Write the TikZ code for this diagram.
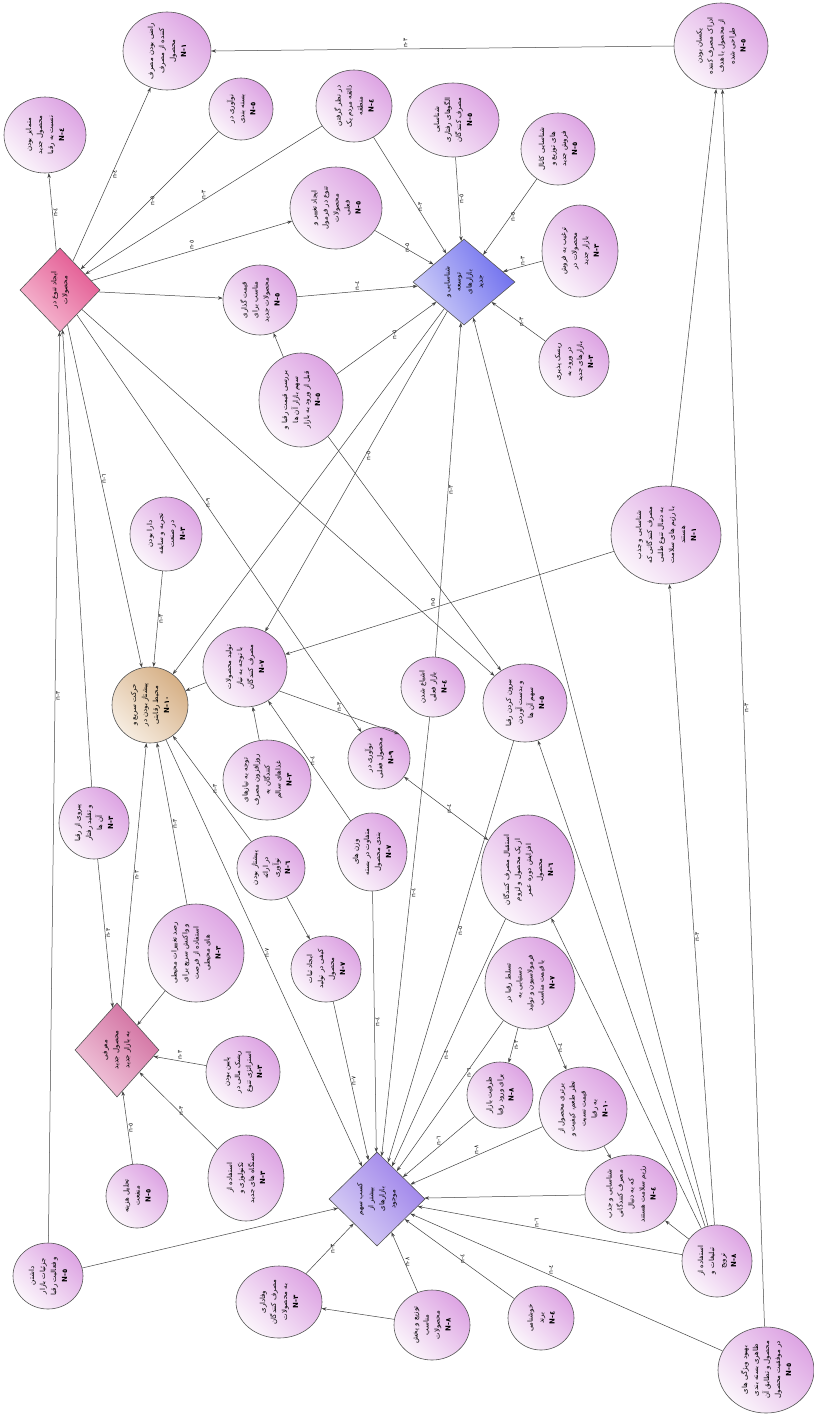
\documentclass[tikz,border=0pt]{standalone}
\usepackage{fontspec}
\usetikzlibrary{shapes.geometric,arrows.meta}
\TeXXeTstate=1
\newfontfamily\arabicfont[Script=Arabic]{DejaVu Sans}
\newcommand\faline[1]{\beginR#1\endR}
\newcommand\nlab[1]{\textbf{#1}}
\definecolor{bord}{HTML}{555555}
\definecolor{edgec}{HTML}{444444}
\definecolor{bubA}{HTML}{DDA4E3}
\definecolor{bubB}{HTML}{FBF5FB}
\definecolor{pinkA}{HTML}{E2558F}
\definecolor{pinkB}{HTML}{F6BCD3}
\definecolor{blueA}{HTML}{6E6EEE}
\definecolor{blueB}{HTML}{CFCFF8}
\definecolor{mauveA}{HTML}{D06C9E}
\definecolor{mauveB}{HTML}{F2CADD}
\definecolor{purpA}{HTML}{9C80EA}
\definecolor{purpB}{HTML}{DAD2F5}
\definecolor{tanA}{HTML}{D6B086}
\definecolor{tanB}{HTML}{F6ECE0}
\begin{document}
\begin{tikzpicture}[x=1pt,y=-1pt,
  sz/.style 2 args={minimum width=#1pt, minimum height=#2pt},
  bub/.style={ellipse, draw=bord, line width=0.6pt, inner sep=0pt,
    top color=bubA, bottom color=bubB, shading angle=-45},
  dia/.style={diamond, draw=bord, line width=0.6pt, inner sep=0pt},
  txt/.style={rotate=90, align=center, inner sep=0pt, text=black,
    font=\arabicfont\fontsize{7}{11}\selectfont},
  arr/.style={draw=edgec, line width=0.5pt, -{Stealth[length=4.8pt,width=3.4pt]}},
  arrb/.style={draw=edgec, line width=0.5pt, {Stealth[length=4.8pt,width=3.4pt]}-{Stealth[length=4.8pt,width=3.4pt]}},
  elab/.style={rotate=90, anchor=north, inner sep=0.8pt, text=black!90,
    font=\arabicfont\fontsize{6}{7}\selectfont},
  elabh/.style={elab, anchor=west},
]
\fill[white] (0,0) rectangle (814,1417);
\path[use as bounding box] (0,0) rectangle (814,1417);

% ---------- category diamonds ----------
\node[dia, sz={80}{84}, top color=pinkA, bottom color=pinkB, shading angle=-45] (d1) at (60,290) {};
\node[dia, sz={102}{86}, top color=blueA, bottom color=blueB, shading angle=-60] (d2) at (464,282) {};
\node[dia, sz={84}{94}, top color=mauveA, bottom color=mauveB, shading angle=-45] (d3) at (117,1050) {};
\node[dia, sz={96}{94}, top color=purpA, bottom color=purpB, shading angle=-50] (d4) at (377,1199) {};
\node[ellipse, draw=bord, line width=0.6pt, inner sep=0pt, sz={76}{76},
  top color=tanA, bottom color=tanB, shading angle=-45] (cc) at (150,705) {};

% ---------- concept bubbles ----------
\node[bub, sz={88}{78}] (a1) at (167,51) {};
\node[bub, sz={82}{76}] (a2) at (45,135) {};
\node[bub, sz={64}{62}] (a3) at (241,109) {};
\node[bub, sz={76}{72}] (a4) at (354,106) {};
\node[bub, sz={92}{82}] (a5) at (336,208) {};
\node[bub, sz={74}{70}] (a6) at (260,300) {};
\node[bub, sz={94}{86}] (b1) at (721,46) {};
\node[bub, sz={92}{74}] (b2) at (453,120) {};
\node[bub, sz={74}{72}] (b3) at (558,149) {};
\node[bub, sz={76}{92}] (b4) at (580,251) {};
\node[bub, sz={70}{70}] (b5) at (574,362) {};
\node[bub, sz={84}{94}] (qb) at (301,400) {};
\node[bub, sz={72}{74}] (tj) at (166,534) {};
\node[bub, sz={84}{80}] (tn) at (245,667) {};
\node[bub, sz={110}{98}] (jt) at (666,535) {};
\node[bub, sz={64}{60}] (ab) at (433,687) {};
\node[bub, sz={84}{78}] (br) at (525,703) {};
\node[bub, sz={62}{62}] (nf) at (379,758) {};
\node[bub, sz={88}{80}] (gs) at (267,780) {};
\node[bub, sz={70}{72}] (pr) at (94,823) {};
\node[bub, sz={70}{78}] (vz) at (372,852) {};
\node[bub, sz={68}{64}] (pn) at (271,868) {};
\node[bub, sz={96}{98}] (rt) at (196,953) {};
\node[bub, sz={70}{66}] (sk) at (326,969) {};
\node[bub, sz={94}{110}] (es) at (528,870) {};
\node[bub, sz={90}{92}] (tr) at (530,983) {};
\node[bub, sz={74}{72}] (rm) at (243,1072) {};
\node[bub, sz={62}{64}] (hm) at (137,1196) {};
\node[bub, sz={76}{86}] (tk) at (246,1178) {};
\node[bub, sz={70}{66}] (jz) at (48,1276) {};
\node[bub, sz={86}{72}] (vf) at (279,1302) {};
\node[bub, sz={76}{70}] (tp) at (432,1325) {};
\node[bub, sz={66}{64}] (kb) at (541,1318) {};
\node[bub, sz={96}{86}] (bv) at (766,1370) {};
\node[bub, sz={70}{72}] (tb) at (717,1261) {};
\node[bub, sz={92}{78}] (js) at (631,1194) {};
\node[bub, sz={88}{84}] (bm) at (583,1109) {};
\node[bub, sz={66}{66}] (zb) at (500,1095) {};

% ---------- connectors ----------
\draw[arr] (d1) -- node[elab]{n-٤} (a2);
\draw[arr] (d1) -- node[elab]{n-٤} (a1);
\draw[arr] (a3) -- node[elab]{n-٥} (d1);
\draw[arr] (a4) -- node[elabh]{n-٣} (d1);
\draw[arr] (d1) -- node[elabh]{n-٥} (a5);
\draw[arr] (d1) -- (a6);
\draw[arr] (a6) -- node[elabh]{n-٤} (d2);
\draw[arr] (a5) -- node[elab]{n-٥} (d2);
\draw[arr] (a4) -- node[elab, pos=0.6]{n-٣} (d2);
\draw[arr] (b2) -- node[elab]{n-٥} (d2);
\draw[arr] (b3) -- node[elab]{n-٥} (d2);
\draw[arr] (b4) -- node[elabh]{n-٣} (d2);
\draw[arr] (b5) -- node[elab]{n-٣} (d2);
\draw[arr] (qb) -- node[elab, pos=0.55]{n-٥} (d2);
\draw[arr] (qb) -- (a6);
\draw[arr] (b1.west) -- node[elabh, pos=0.58]{n-٣} (a1.east);
\draw[arr] (jt) -- (b1);
\draw[arr] (bv) -- node[elab, pos=0.5]{n-٣} (b1);
\draw[arr] (jt) -- node[elabh, pos=0.55]{n-٥} (tn);
\draw[arr] (tb) -- node[elab, pos=0.45]{n-٣} (jt);
\draw[arr] (d2) -- node[elab, pos=0.45]{n-٥} (tn);
\draw[arr] (d2) -- (cc);
\draw[arr] (ab) -- node[elab]{n-٣} (d2);
\draw[arr] (tb) -- (d2);
\draw[arr] (qb) -- (br);
\draw[arr] (d1) -- (br);
\draw[arr] (d1) -- node[elab, pos=0.45]{n-٦} (cc);
\draw[arr] (d1) -- node[elab, pos=0.45]{n-٩} (nf);
\draw[arr] (tn.-35) -- node[elabh]{n-٣} (nf.50);
\draw[arrb] (nf) -- node[elab]{n-٤} (es);
\draw[arr] (tj) -- node[elab]{n-٣} (cc);
\draw[arr] (tn) -- (cc);
\draw[arr] (gs) -- (tn);
\draw[arr] (vz) -- node[elab]{n-٤} (tn);
\draw[arr] (d3) -- node[elab]{n-٣} (cc);
\draw[arr] (rt) -- node[elab]{n-٣} (cc);
\draw[arr] (pn) -- node[elab]{n-٣} (cc);
\draw[arr] (cc) -- node[elab]{n-٧} (d4);
\draw[arr] (pn) -- (sk);
\draw[arr] (sk) -- node[elab]{n-٧} (d4);
\draw[arr] (vz) -- node[elab]{n-٤} (d4);
\draw[arr] (pr) -- (d1);
\draw[arr] (jz) -- node[elab, pos=0.6]{n-٣} (d1);
\draw[arr] (pr) -- node[elab]{n-٣} (d3);
\draw[arr] (rm) -- node[elabh]{n-٣} (d3);
\draw[arr] (hm) -- node[elab]{n-٥} (d3);
\draw[arr] (tk) -- node[elab]{n-٣} (d3);
\draw[arr] (rt) -- (d3);
\draw[arr] (jz) -- (d4);
\draw[arr] (vf) -- node[elab]{n-٣} (d4);
\draw[arr] (tp) -- (vf);
\draw[arr] (tp) -- node[elab]{n-٨} (d4);
\draw[arr] (kb) -- node[elab]{n-٤} (d4);
\draw[arr] (bv) -- node[elabh, pos=0.55]{n-٤} (d4);
\draw[arr] (tb) -- node[elabh, pos=0.55]{n-٦} (d4);
\draw[arr] (tb) -- (js);
\draw[arr] (js) -- (d4);
\draw[arr] (bm) -- (js);
\draw[arr] (bm) -- node[elabh]{n-٨} (d4);
\draw[arr] (zb) -- node[elabh]{n-٦} (d4);
\draw[arr] (tr) -- node[elab]{n-٣} (zb);
\draw[arr] (tr) -- node[elab]{n-٤} (bm);
\draw[arr] (tr) -- node[elab, pos=0.35]{n-٦} (d4);
\draw[arr] (ab) -- node[elab, pos=0.4]{n-٤} (d4);
\draw[arr] (br) -- node[elab, pos=0.45]{n-٥} (d4);
\draw[arr] (es) -- node[elab, pos=0.55]{n-٤} (d4);
\draw[arr] (tb) -- (br);
\draw[arr] (tb) -- (es);

% ---------- texts ----------
\node[txt] (d1t) at (d1) {\faline{ایجاد تنوع در}\\\faline{محصولات}};
\node[txt] (d2t) at (d2) {\faline{شناسایی و}\\\faline{توسعه}\\\faline{بازارهای}\\\faline{جدید}};
\node[txt] (d3t) at (d3) {\faline{معرفی}\\\faline{محصول جدید}\\\faline{به بازار جدید}};
\node[txt] (d4t) at (d4) {\faline{کسب سهم}\\\faline{بیشتر از}\\\faline{بازارهای}\\\faline{موجود}};
\node[txt] (cct) at (cc) {\faline{حرکت سریع و}\\\faline{پیشتاز بودن در}\\\faline{محیط رقابتی}\\\nlab{N-١٠}};

\node[txt] (a1t) at (a1) {\faline{راضی بودن مصرف}\\\faline{کننده از مصرف}\\\faline{محصول}\\\nlab{N-١}};
\node[txt] (a2t) at (a2) {\faline{متمایز بودن}\\\faline{محصول جدید}\\\faline{نسبت به رقبا}\\\nlab{N-٤}};
\node[txt] (a3t) at (a3) {\faline{نوآوری در}\\\faline{بسته بندی}\\\nlab{N-٥}};
\node[txt] (a4t) at (a4) {\faline{در نظر گرفتن}\\\faline{ذائقه مردم یک}\\\faline{منطقه}\\\nlab{N-٤}};
\node[txt] (a5t) at (a5) {\faline{ایجاد تغییر و}\\\faline{تنوع در فرمول}\\\faline{محصولات}\\\faline{فعلی}\\\nlab{N-٥}};
\node[txt] (a6t) at (a6) {\faline{قیمت گذاری}\\\faline{مناسب برای}\\\faline{محصولات جدید}\\\nlab{N-٥}};
\node[txt] (b1t) at (b1) {\faline{یکسان بودن}\\\faline{ادراک مصرف کننده}\\\faline{از محصول با هدف}\\\faline{طراحی شده}\\\nlab{N-٥}};
\node[txt] (b2t) at (b2) {\faline{شناسایی}\\\faline{الگوهای رفتاری}\\\faline{مصرف کنندگان}\\\nlab{N-٥}};
\node[txt] (b3t) at (b3) {\faline{شناسایی کانال}\\\faline{های توزیع و}\\\faline{فروش جدید}\\\nlab{N-٥}};
\node[txt] (b4t) at (b4) {\faline{ترغیب به فروش}\\\faline{محصولات در}\\\faline{بازار جدید}\\\nlab{N-٣}};
\node[txt] (b5t) at (b5) {\faline{ریسک پذیری}\\\faline{در ورود به}\\\faline{بازارهای جدید}\\\nlab{N-٣}};
\node[txt] (qbt) at (qb) {\faline{بررسی قیمت رقبا و}\\\faline{سهم بازار آن ها}\\\faline{قبل از ورود به بازار}\\\nlab{N-٥}};
\node[txt] (tjt) at (tj) {\faline{دارا بودن}\\\faline{تجربه و سابقه}\\\faline{در صنعت}\\\nlab{N-٣}};
\node[txt] (tnt) at (tn) {\faline{تولید محصولات}\\\faline{با توجه به نیاز}\\\faline{مصرف کنندگان}\\\nlab{N-٧}};
\node[txt] (jtt) at (jt) {\faline{شناسایی و جذب}\\\faline{مصرف کنندگانی که}\\\faline{به دنبال تنوع طلبی}\\\faline{با رژیم های سلامت}\\\faline{هستند}\\\nlab{N-١}};
\node[txt] (abt) at (ab) {\faline{اشباع شدن}\\\faline{بازار فعلی}\\\nlab{N-٤}};
\node[txt] (brt) at (br) {\faline{بیرون کردن رقبا}\\\faline{و بدست آوردن}\\\faline{سهم آن ها}\\\nlab{N-٥}};
\node[txt] (nft) at (nf) {\faline{نوآوری در}\\\faline{محصول فعلی}\\\nlab{N-٩}};
\node[txt] (gst) at (gs) {\faline{توجه به نیازهای}\\\faline{روزافزون مصرف}\\\faline{کنندگان به}\\\faline{غذاهای سالم}\\\nlab{N-٣}};
\node[txt] (prt) at (pr) {\faline{پیروی از رقبا}\\\faline{و تقلید رفتار}\\\faline{آن ها}\\\nlab{N-٣}};
\node[txt] (vzt) at (vz) {\faline{وزن های}\\\faline{متفاوت در بسته}\\\faline{بندی محصول}\\\nlab{N-٧}};
\node[txt] (pnt) at (pn) {\faline{پیشتاز بودن}\\\faline{در ارائه}\\\faline{نوآوری}\\\nlab{N-٦}};
\node[txt] (rtt) at (rt) {\faline{رصد تغییرات محیطی}\\\faline{و واکنش سریع برای}\\\faline{استفاده از فرصت}\\\faline{های محیطی}\\\nlab{N-٣}};
\node[txt] (skt) at (sk) {\faline{ایجاد ثبات}\\\faline{کیفی در تولید}\\\faline{محصول}\\\nlab{N-٧}};
\node[txt] (est) at (es) {\faline{استقبال مصرف کنندگان}\\\faline{از یک محصول و لزوم}\\\faline{افزایش دوره عمر}\\\faline{محصول}\\\nlab{N-٦}};
\node[txt] (trt) at (tr) {\faline{تسلط رقبا در}\\\faline{دستیابی به}\\\faline{فرمولاسیون و تولید}\\\faline{با قیمت مناسب}\\\nlab{N-٧}};
\node[txt] (rmt) at (rm) {\faline{پایین بودن}\\\faline{ریسک مالی در}\\\faline{استراتژی تنوع}\\\nlab{N-٣}};
\node[txt] (hmt) at (hm) {\faline{تحلیل هزینه}\\\faline{منفعت}\\\nlab{N-٥}};
\node[txt] (tkt) at (tk) {\faline{استفاده از}\\\faline{تکنولوژی و}\\\faline{دستگاه های جدید}\\\nlab{N-٣}};
\node[txt] (jzt) at (jz) {\faline{داشتن}\\\faline{جزئیات بازار}\\\faline{و فعالیت رقبا}\\\nlab{N-٥}};
\node[txt] (vft) at (vf) {\faline{وفاداری}\\\faline{مصرف کنندگان}\\\faline{به محصولات}\\\nlab{N-٣}};
\node[txt] (tpt) at (tp) {\faline{توزیع و پخش}\\\faline{مناسب}\\\faline{محصولات}\\\nlab{N-٨}};
\node[txt] (kbt) at (kb) {\faline{خوشنامی}\\\faline{برند}\\\nlab{N-٤}};
\node[txt] (bvt) at (bv) {\faline{بهبود ویژگی های}\\\faline{ظاهری بسته بندی}\\\faline{محصول و تطابق آن}\\\faline{در موفقیت محصول}\\\nlab{N-٥}};
\node[txt] (tbt) at (tb) {\faline{استفاده از}\\\faline{تبلیغات و}\\\faline{ترویج}\\\nlab{N-٨}};
\node[txt] (jst) at (js) {\faline{شناسایی و جذب}\\\faline{مصرف کنندگانی}\\\faline{که به دنبال}\\\faline{رژیم سلامت هستند}\\\nlab{N-٤}};
\node[txt] (bmt) at (bm) {\faline{برتری محصول از}\\\faline{نظر طعم، کیفیت و}\\\faline{قیمت نسبت}\\\faline{به رقبا}\\\nlab{N-١٠}};
\node[txt] (zbt) at (zb) {\faline{ظرفیت بازار}\\\faline{برای ورود رقبا}\\\nlab{N-٨}};
\end{tikzpicture}
\end{document}
